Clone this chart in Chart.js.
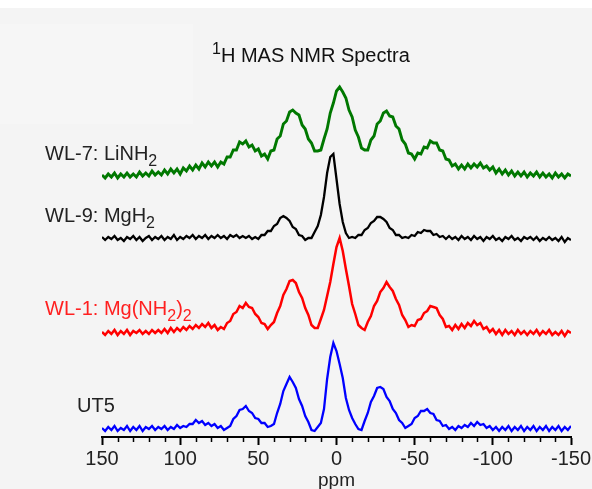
<!DOCTYPE html>
<html>
<head>
<meta charset="utf-8">
<script src="https://cdn.jsdelivr.net/npm/chart.js@4/dist/chart.umd.min.js"></script>
<style>
  html, body { margin: 0; padding: 0; background: #f5f5f5; }
  #wrap { width: 592px; height: 489px; position: relative; }
  canvas { display: block; }
</style>
</head>
<body>
<div id="wrap"><canvas id="nmr" width="592" height="489"></canvas></div>
<script>
// Chemical shift grid: 150 ppm down to -150 ppm, one reading every 2 ppm
const shiftStart = 150;
const shiftStep = 2;
const shifts = [];
for (let s = shiftStart; s >= -150; s -= shiftStep) shifts.push(s);

// Axis tick labels (ppm)
const tickLabels = [150, 100, 50, 0, -50, -100, -150];

// Sample names, drawn beside each trace
const sampleNames = ['UT5', 'WL-1: Mg(NH2)2', 'WL-9: MgH2', 'WL-7: LiNH2'];

// Intensities (arbitrary units, relative to each trace's own baseline), 150 → -150 ppm
const ut5 = [
  1,-2,2,-1,3,-2,1,-1,3,-2,2,-1,3,-2,2,0,3,-1,2,0,3,-1,2,0,4,1,3,2,5,5,
  9,6,8,4,6,3,5,1,3,-1,1,3,10,13,19,20,23,18,16,11,10,6,6,2,3,5,16,25,38,45,
  52,47,41,30,23,13,7,-1,-2,2,6,20,50,72,86,78,65,51,31,19,11,5,0,-1,8,16,27,33,41,42,
  40,32,28,20,16,9,6,1,3,5,11,13,18,18,20,16,15,9,8,3,4,0,2,-1,3,1,4,2,6,3,
  7,4,5,1,3,-1,2,-2,2,-1,3,-2,2,-1,3,-2,2,-1,3,-2,2,-1,3,-2,2,-1,3,-2,2,-1,
  3
];
const wl1MgNH2 = [
  1,-2,2,-1,3,-2,2,-1,3,-2,2,0,3,-1,2,-1,3,0,3,0,4,0,5,1,5,2,6,3,7,4,
  8,5,9,6,10,5,8,3,6,4,10,12,19,21,27,25,30,26,25,19,16,10,9,4,8,11,20,27,38,44,
  52,53,50,41,35,25,18,8,5,5,14,23,37,51,69,86,95,82,64,47,29,19,8,5,3,11,17,27,32,41,
  45,51,46,42,34,28,18,13,6,8,7,13,14,20,22,27,26,25,18,14,6,7,3,8,4,9,5,10,7,12,
  8,10,4,6,1,4,-1,3,-2,3,-1,2,-2,3,-1,2,-2,2,-1,3,-2,2,-1,3,-2,1,-2,2,-3,2,
  0
];
const wl9MgH2 = [
  2,-1,2,0,3,-1,1,-2,2,0,3,-1,2,-2,1,3,-1,2,0,3,-1,2,0,4,-1,2,0,3,1,4,
  0,3,1,4,0,3,1,4,1,3,0,4,2,4,1,3,1,3,0,2,0,4,4,8,8,13,15,21,23,21,
  18,12,10,4,3,-1,1,1,7,13,24,42,66,82,85,60,35,17,6,1,2,1,4,4,9,11,16,18,22,22,
  20,17,11,9,4,4,1,2,1,4,3,7,6,9,8,8,4,5,2,3,0,3,0,2,-1,3,0,2,-1,3,
  0,2,-2,2,0,3,-1,1,-2,2,0,3,-1,1,-2,2,0,2,-1,2,-2,1,-1,2,-1,1,-2,2,-3,1,
  -1
];
const wl7LiNH2 = [
  1,-2,2,-1,3,-2,2,-1,3,-1,2,-1,4,0,3,0,5,1,4,1,6,2,7,3,7,2,8,5,10,6,
  11,7,13,9,14,10,14,9,14,12,19,19,26,26,34,32,35,29,31,25,27,20,22,17,25,26,37,40,52,55,
  64,66,63,61,51,47,37,33,25,25,26,37,47,63,73,85,89,84,78,66,59,46,39,28,26,26,36,40,52,55,
  63,65,60,59,50,47,36,32,23,22,17,23,22,29,28,35,33,33,26,25,17,16,10,12,7,11,7,12,8,12,
  9,13,8,10,6,9,3,7,2,6,1,5,0,4,0,4,-1,3,0,4,-1,3,-1,2,-2,3,-1,2,-2,2,
  0
];

// Vertical stacking of the traces (same units as the intensities)
const traceOffset = [8, 104, 198, 261];
const traceColor = ['#0000ff', '#ff0000', '#000000', '#007800'];
const traceWidth = [2.3, 2.5, 2.3, 2.9];
const traceData = [ut5, wl1MgNH2, wl9MgH2, wl7LiNH2];

const datasets = traceData.map((vals, k) => ({
  label: sampleNames[k],
  data: vals.map((v, i) => ({ x: shifts[i], y: v + traceOffset[k] })),
  borderColor: traceColor[k],
  borderWidth: traceWidth[k],
  borderJoinStyle: 'miter',
  pointRadius: 0,
  tension: 0,
  fill: false
}));

const FONT = '"Liberation Sans", Arial, sans-serif';

// Draws text made of normal / subscript / superscript pieces
function richText(ctx, x, y, parts, size, color) {
  ctx.save();
  ctx.fillStyle = color;
  ctx.textBaseline = 'alphabetic';
  ctx.textAlign = 'left';
  let cx = x;
  for (const [txt, kind] of parts) {
    const sz = kind ? Math.round(size * 0.8) : size;
    ctx.font = sz + 'px ' + FONT;
    const dy = kind === 'sub' ? size * 0.3 : kind === 'sup' ? -size * 0.42 : 0;
    ctx.fillText(txt, cx, y + dy);
    cx += ctx.measureText(txt).width;
  }
  ctx.restore();
}

const decorations = {
  id: 'decorations',
  beforeDraw(chart) {
    const ctx = chart.ctx;
    ctx.save();
    ctx.fillStyle = '#f4f4f4';
    ctx.fillRect(0, 0, chart.width, chart.height);
    ctx.fillStyle = '#f6f6f6';
    ctx.fillRect(0, 24, 193, 100);
    ctx.fillStyle = '#ffffff';
    ctx.fillRect(0, 0, chart.width, 8);
    ctx.restore();
  },
  afterDraw(chart) {
    const ctx = chart.ctx;
    const xs = chart.scales.x;
    const axisY = chart.chartArea.bottom;
    // short minor ticks every 10 ppm
    ctx.save();
    ctx.strokeStyle = '#000';
    ctx.lineWidth = 1.5;
    for (let v = -140; v <= 140; v += 10) {
      if (v % 50 === 0) continue;
      const px = Math.round(xs.getPixelForValue(v)) + 0.5;
      ctx.beginPath();
      ctx.moveTo(px, axisY);
      ctx.lineTo(px, axisY + 5);
      ctx.stroke();
    }
    ctx.restore();

    // title
    richText(ctx, 212, 62, [['1', 'sup'], ['H MAS NMR Spectra', null]], 20, '#111');

    // sample labels
    richText(ctx, 45, 160, [['WL-7: LiNH', null], ['2', 'sub']], 20, '#222');
    richText(ctx, 45, 222, [['WL-9: MgH', null], ['2', 'sub']], 20, '#222');
    richText(ctx, 45, 315, [['WL-1: Mg(NH', null], ['2', 'sub'], [')', null], ['2', 'sub']], 20, '#ff2020');
    richText(ctx, 77, 412, [['UT5', null]], 20, '#222');
  }
};

new Chart(document.getElementById('nmr'), {
  type: 'line',
  data: { datasets },
  options: {
    responsive: false,
    animation: false,
    devicePixelRatio: 1,
    parsing: false,
    layout: { padding: { left: 102, right: 21, top: 0, bottom: 0 } },
    plugins: { legend: { display: false }, tooltip: { enabled: false } },
    scales: {
      x: {
        type: 'linear',
        reverse: true,
        min: -150,
        max: 150,
        afterFit(scale) { scale.height = 52; },
        afterBuildTicks(scale) {
          const t = [];
          for (let v = -150; v <= 150; v += 10) t.push({ value: v });
          scale.ticks = t;
        },
        ticks: {
          autoSkip: false,
          maxRotation: 0,
          padding: 2,
          color: '#222',
          font: { family: FONT, size: 20 },
          callback: (v) => tickLabels.includes(v) ? String(v) : ''
        },
        grid: {
          drawOnChartArea: false,
          drawTicks: true,
          tickLength: 8,
          tickWidth: 2,
          tickColor: (c) => (c.tick && tickLabels.includes(c.tick.value)) ? '#000' : 'rgba(0,0,0,0)'
        },
        border: { display: true, color: '#000', width: 2 },
        title: {
          display: true,
          text: 'ppm',
          color: '#222',
          font: { family: FONT, size: 19 },
          padding: { top: -6, bottom: -3 }
        }
      },
      y: {
        display: false,
        min: 0,
        max: 437
      }
    }
  },
  plugins: [decorations]
});
</script>
</body>
</html>
